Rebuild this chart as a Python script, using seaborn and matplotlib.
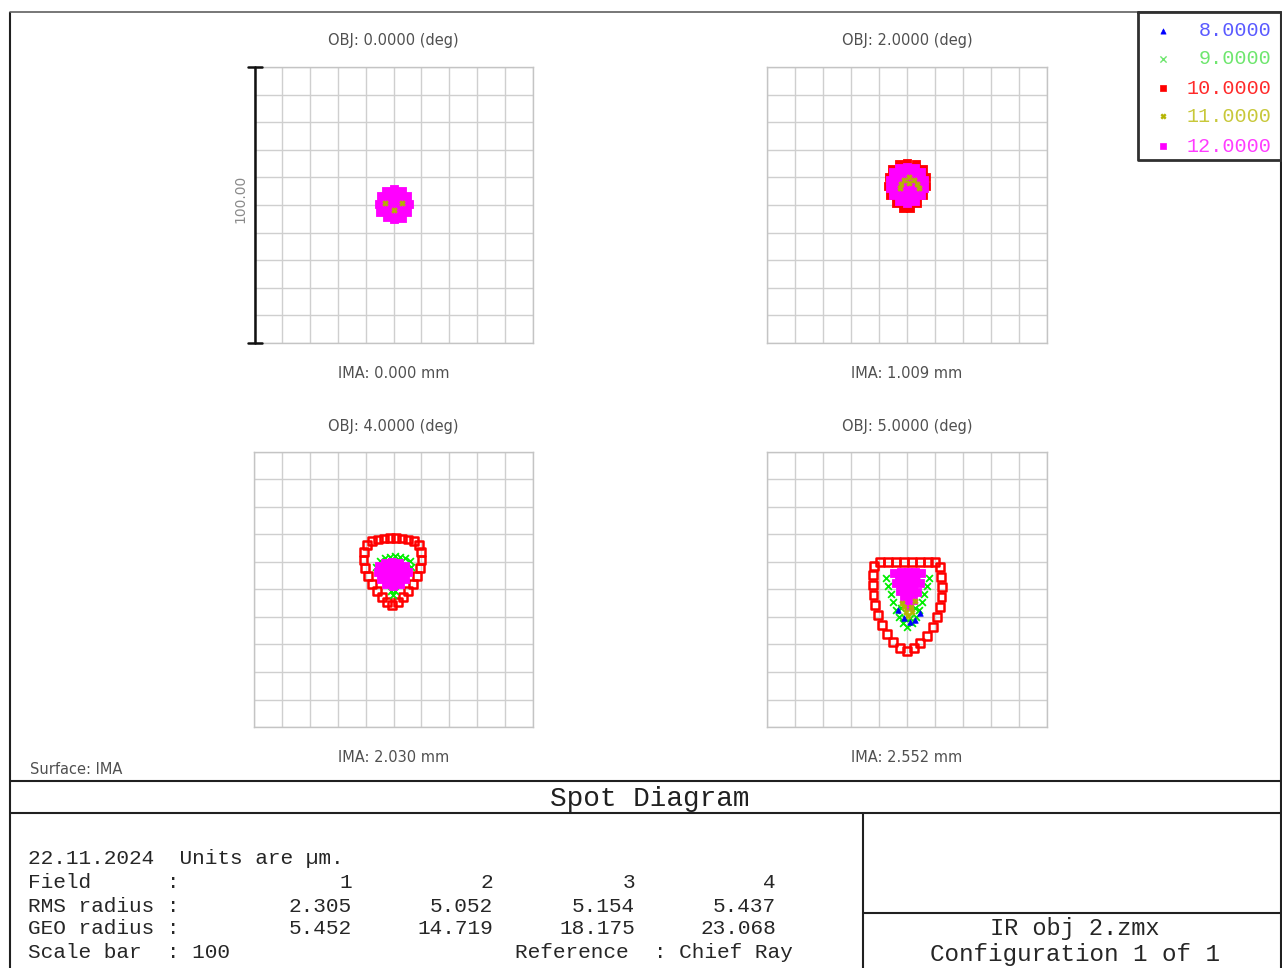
import matplotlib
matplotlib.use("Agg")
import matplotlib.pyplot as plt
import seaborn as sns

W, H = 1282, 968

# ---- chart content -------------------------------------------------------
wavelengths = ["8.0000", "9.0000", "10.0000", "11.0000", "12.0000"]
wave_colors = ["#0000ff", "#00ee00", "#ff0000", "#b4b400", "#ff00ff"]
legend_text_colors = ["#5a5aff", "#6ee66e", "#ff2a2a", "#c8c83a", "#ff3cff"]
wave_markers = ["^", "x", "s", "X", "s"]

field_angles = ["0.0000", "2.0000", "4.0000", "5.0000"]
image_heights = ["0.000", "1.009", "2.030", "2.552"]
field_numbers = ["1", "2", "3", "4"]
rms_radius = ["2.305", "5.052", "5.154", "5.437"]
geo_radius = ["5.452", "14.719", "18.175", "23.068"]
scale_bar = 100
date_text = "22.11.2024"
lens_file = "IR obj 2.zmx"

# ---- ray intercepts (µm, relative to the chief ray) ----------------------
# Field 1 (0 deg)
f1_mag_x = [5.7, 4.9, 2.9, 0.2, -2.6, -4.6, -5.3, -4.7, -2.5, 0.2, 2.9, 4.9]
f1_mag_y = [0.4, 3.2, 5.1, 5.9, 5.2, 3.1, 0.3, -2.5, -4.5, -5.2, -4.6, -2.5]
f1_yel_x = [-3.0, 2.9, 0.0]
f1_yel_y = [0.7, 0.7, -1.8]

# Field 2 (2 deg)
f2_red_x = [0.0, 3.23, 5.73, 6.81, 6.81, 5.73, 3.58, 1.08, -1.43, -3.94,
            -6.09, -6.81, -6.45, -5.38, -2.87]
f2_red_y = [15.2, 14.86, 13.04, 10.14, 6.88, 3.62, 0.72, -1.09, -1.09, 0.72,
            3.62, 6.88, 10.14, 13.04, 14.86]
f2_mag_x = [0.0, 2.87, 5.02, 6.09, 6.09, 5.02, 2.87, 0.0, -2.87, -5.02,
            -6.09, -6.09, -5.02, -2.87]
f2_mag_y = [13.77, 13.41, 11.96, 9.06, 6.16, 3.62, 1.45, 0.72, 1.45, 3.62,
            6.16, 9.06, 11.96, 13.41]
f2_yel_x = [0.72, -1.08, 2.51, -2.15, 3.58, -2.51, 4.30, 0.72]
f2_yel_y = [10.14, 9.06, 9.06, 7.61, 7.61, 6.16, 6.16, 7.97]

# Field 3 (4 deg)
f3_red_x = [-7.71, -5.56, -3.41, -1.25, 0.90, 3.05, 5.20, 7.35, 9.14, 9.86,
            10.04, 9.50, 8.42, 7.00, 5.20, 3.41, 1.61, -0.54, -2.33, -4.12,
            -5.91, -7.71, -9.14, -10.22, -10.75, -10.57, -9.50]
f3_red_y = [17.57, 18.12, 18.48, 18.66, 18.66, 18.48, 18.12, 17.57, 16.12,
            13.59, 10.69, 7.79, 4.89, 2.00, -0.54, -2.72, -4.53, -5.62, -4.53,
            -2.72, -0.54, 2.00, 4.89, 7.79, 10.69, 13.59, 16.12]
f3_grn_x = [-4.84, -3.05, -1.25, 0.54, 2.33, 4.12, 5.91, -0.90, 0.54, -0.18,
            -6.27, 6.27]
f3_grn_y = [10.33, 11.41, 11.78, 12.14, 11.78, 11.41, 10.33, -0.54, -0.54,
            -1.99, 8.15, 8.15]
f3_mag_x = [-5.20, -3.05, -0.54, 1.97, 4.12, 5.20, 4.12, 2.33, -0.18, -2.69,
            -4.48, -5.56]
f3_mag_y = [8.51, 9.60, 9.96, 9.60, 8.51, 6.34, 3.80, 1.99, 1.27, 1.99,
            3.80, 6.34]

# Field 4 (5 deg)
f4_red_x = [-11.83, -9.68, -6.81, -3.94, -1.08, 1.79, 4.66, 7.53, 10.04,
            11.83, 12.19, 12.54, 12.37, 11.83, 10.75, 9.32, 7.17, 4.66, 2.51,
            0.0, -2.51, -5.02, -7.17, -8.96, -10.39, -11.47, -12.01, -12.19,
            -12.19]
f4_red_y = [8.51, 9.96, 9.96, 9.96, 9.96, 9.96, 9.96, 9.96, 9.96,
            8.15, 4.53, 0.91, -2.72, -6.34, -9.96, -13.59, -16.85, -19.38,
            -21.20, -22.28, -21.20, -19.02, -16.12, -12.86, -9.24, -5.62,
            -1.99, 1.63, 5.25]
f4_grn_x = [-7.53, -6.81, -5.73, -5.02, -3.94, -2.87, -1.43, 7.89, 7.17, 6.09,
            5.38, 4.30, 3.23, 1.79, 0.0, -2.15, 2.87, -0.72, 1.08]
f4_grn_y = [4.17, 1.27, -1.63, -4.53, -7.43, -9.96, -12.14, 4.17, 1.27, -1.63,
            -4.53, -7.43, -9.96, -12.14, -13.59, -6.70, -6.70, -10.33, -10.33]
f4_mag_x = [-4.66, -2.15, 0.36, 2.87, 5.02, 4.66, 3.58, 2.15, 0.72, -1.08,
            -2.51, -3.94]
f4_mag_y = [5.98, 6.34, 6.34, 6.34, 5.98, 2.36, -0.91, -3.80, -5.98, -3.44,
            -0.54, 2.36]
f4_yel_x = [-1.08, 1.43, -0.36, 1.79, 0.36, -1.79, 2.87]
f4_yel_y = [-6.34, -6.34, -8.15, -8.15, -9.60, -4.89, -4.17]
f4_blu_x = [-3.23, -1.08, 1.08, 2.87, 4.66]
f4_blu_y = [-7.43, -10.33, -11.78, -11.05, -8.51]

# (field, wavelength index, x, y, rendering)
spots = [
    (0, 4, f1_mag_x, f1_mag_y, "solid"),
    (0, 3, f1_yel_x, f1_yel_y, "dots"),
    (1, 2, f2_red_x, f2_red_y, "solid"),
    (1, 4, f2_mag_x, f2_mag_y, "solid"),
    (1, 3, f2_yel_x, f2_yel_y, "dots"),
    (2, 2, f3_red_x, f3_red_y, "ring"),
    (2, 1, f3_grn_x, f3_grn_y, "dots"),
    (2, 4, f3_mag_x, f3_mag_y, "solid"),
    (3, 2, f4_red_x, f4_red_y, "ring"),
    (3, 1, f4_grn_x, f4_grn_y, "dots"),
    (3, 4, f4_mag_x, f4_mag_y, "solid"),
    (3, 3, f4_yel_x, f4_yel_y, "dots"),
    (3, 0, f4_blu_x, f4_blu_y, "dots"),
]
draw_order = [2, 1, 4, 3, 0]

# ---- figure ----------------------------------------------------------------
sns.set_style("white")
plt.rcParams["font.family"] = ["DejaVu Sans"]
MONO = ["Liberation Mono", "DejaVu Sans Mono"]
LABEL_GRAY = "#505050"

fig = plt.figure(figsize=(W / 100, H / 100), dpi=100)
fig.patch.set_facecolor("white")


def px_rect(x0, y0, x1, y1):
    return [x0 / W, 1 - y1 / H, (x1 - x0) / W, (y1 - y0) / H]


panel_boxes = [(254, 67, 533, 343), (767, 67, 1047, 343),
               (254, 452, 533, 727), (767, 452, 1047, 727)]

half = scale_bar / 2
grid_ticks = [-half + i * scale_bar / 10 for i in range(11)]

axes = []
for i, box in enumerate(panel_boxes):
    ax = fig.add_axes(px_rect(*box))
    ax.set_xlim(-half, half)
    ax.set_ylim(-half, half)
    ax.set_xticks(grid_ticks)
    ax.set_yticks(grid_ticks)
    ax.tick_params(length=0, labelbottom=False, labelleft=False)
    ax.grid(True, color="#cfcfcf", lw=1.0)
    ax.set_axisbelow(True)
    for sp in ax.spines.values():
        sp.set_color("#c4c4c4")
        sp.set_linewidth(1.0)
    if i == 0:
        ax.spines["left"].set_visible(False)
    axes.append(ax)

for order_pos, w in enumerate(draw_order):
    for field, wave, xs, ys, kind in spots:
        if wave != w:
            continue
        ax = axes[field]
        col = wave_colors[wave]
        z = 3 + order_pos * 2
        if kind == "solid":
            ax.fill(xs, ys, color=col, lw=0, zorder=z)
            sns.scatterplot(x=xs, y=ys, ax=ax, color=col, marker="s", s=30,
                            edgecolor=col, linewidth=0.6, legend=False,
                            zorder=z + 1)
        elif kind == "ring":
            sns.scatterplot(x=xs, y=ys, ax=ax, color=col, marker="s", s=30,
                            facecolor="none", edgecolor=col, linewidth=1.8,
                            legend=False, zorder=z + 1)
        else:
            m = wave_markers[wave]
            if m == "x":
                sns.scatterplot(x=xs, y=ys, ax=ax, color=col, marker="x",
                                s=24, linewidth=1.3, legend=False,
                                zorder=z + 1)
            else:
                sns.scatterplot(x=xs, y=ys, ax=ax, color=col, marker=m,
                                s=16, edgecolor=col, linewidth=0.5,
                                legend=False, zorder=z + 1)

# ---- frame, labels, legend and text block --------------------------------
ov = fig.add_axes([0, 0, 1, 1], zorder=10)
ov.set_xlim(0, W)
ov.set_ylim(H, 0)
ov.axis("off")

frame_kw = dict(color="#202020", lw=1.5, solid_capstyle="butt")
ov.plot([10, 10], [12, 968], **frame_kw)
ov.plot([10, 1281], [12, 12], color="#606060", lw=1.2)
ov.plot([1281, 1281], [12, 968], **frame_kw)
ov.plot([10, 1282], [781, 781], **frame_kw)
ov.plot([10, 1282], [813, 813], **frame_kw)
ov.plot([863, 863], [813, 968], **frame_kw)
ov.plot([863, 1282], [913, 913], **frame_kw)

# legend box
ov.plot([1138, 1138, 1281, 1281, 1138], [12, 160, 160, 12, 12],
        color="#303030", lw=2.0)
legend_rows = [31, 59, 88, 116, 146]
for k, yy in enumerate(legend_rows):
    m = wave_markers[k]
    if m == "x":
        ov.scatter([1163], [yy], marker="x", s=20, color=legend_text_colors[k],
                   linewidth=1.0)
    else:
        ov.scatter([1163], [yy], marker=m, s=14, color=wave_colors[k],
                   edgecolor=wave_colors[k], linewidth=0.5)
    ov.text(1271, yy, wavelengths[k], ha="right", va="center",
            family=MONO, fontsize=14.5, color=legend_text_colors[k])

# panel captions
for i, (x0, y0, x1, y1) in enumerate(panel_boxes):
    cx = (x0 + x1) / 2
    ov.text(cx, y0 - 26, f"OBJ: {field_angles[i]} (deg)", ha="center",
            va="center", fontsize=10.5, color=LABEL_GRAY)
    ov.text(cx, y1 + 30, f"IMA: {image_heights[i]} mm", ha="center",
            va="center", fontsize=10.5, color=LABEL_GRAY)

# scale bar
x0, y0, x1, y1 = panel_boxes[0]
ov.plot([x0 + 0.5, x0 + 0.5], [y0, y1], color="#111111", lw=1.8)
ov.plot([x0 - 6, x0 + 8], [y0, y0], color="#111111", lw=1.8)
ov.plot([x0 - 6, x0 + 8], [y1, y1], color="#111111", lw=1.8)
ov.text(x0 - 14, 199, f"{scale_bar:.2f}", rotation=90, ha="center",
        va="center", fontsize=10, color="#8a8a8a")

ov.text(30, 769, "Surface: IMA", ha="left", va="center", fontsize=10.5,
        color=LABEL_GRAY)

ov.text(650, 799, "Spot Diagram", ha="center", va="center", family=MONO,
        fontsize=20, color="#202020")

TXT = "#262626"
tfs = 15.2
ov.text(28, 859, f"{date_text}  Units are \u00b5m.", ha="left", va="center",
        family=MONO, fontsize=tfs, color=TXT)
row_y = [882, 906, 929]
row_labels = ["Field      :", "RMS radius :", "GEO radius :"]
row_values = [field_numbers, rms_radius, geo_radius]
col_right = [352, 493, 635, 776]
for lbl, yy, vals in zip(row_labels, row_y, row_values):
    ov.text(28, yy, lbl, ha="left", va="center", family=MONO, fontsize=tfs,
            color=TXT)
    for xr, v in zip(col_right, vals):
        ov.text(xr, yy, v, ha="right", va="center", family=MONO,
                fontsize=tfs, color=TXT)
ov.text(28, 953, f"Scale bar  : {scale_bar}", ha="left", va="center",
        family=MONO, fontsize=tfs, color=TXT)
ov.text(515, 953, "Reference  : Chief Ray", ha="left", va="center",
        family=MONO, fontsize=tfs, color=TXT)

ov.text(1075, 928, lens_file, ha="center", va="center", family=MONO,
        fontsize=17, color=TXT)
ov.text(1075, 954, "Configuration 1 of 1", ha="center", va="center",
        family=MONO, fontsize=17.5, color=TXT)

fig.savefig("out.png", dpi=100, facecolor="white")
